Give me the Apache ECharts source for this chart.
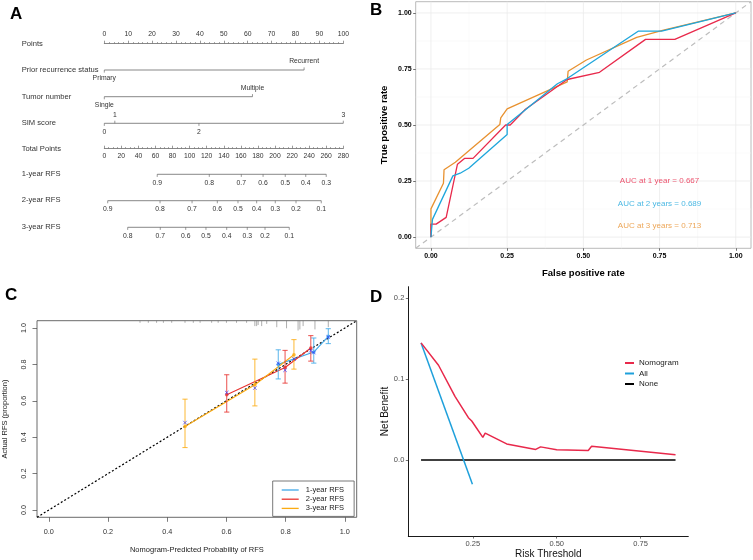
<!DOCTYPE html>
<html>
<head>
<meta charset="utf-8">
<script src="https://cdn.jsdelivr.net/npm/echarts@6/dist/echarts.min.js"></script>
<style>
html, body { margin: 0; padding: 0; background: #fff; }
#chart { width: 753px; height: 560px; }
</style>
</head>
<body>
<div id="chart"></div>
<script>
var FONT = 'Liberation Sans, Arial, sans-serif';

// ---------- A: nomogram ----------
var priorLevels = ['Primary', 'Recurrent'];
var priorPoints = [0, 83.6];
var tumorLevels = ['Single', 'Multiple'];
var tumorPoints = [0, 62];
var simLevels = ['0', '1', '2', '3'];
var simPoints = [0, 4.4, 39.6, 100];
var rfs1Labels = ['0.9', '0.8', '0.7', '0.6', '0.5', '0.4', '0.3'];
var rfs1Total = [62, 123, 160.5, 186, 212, 236, 260];
var rfs2Labels = ['0.9', '0.8', '0.7', '0.6', '0.5', '0.4', '0.3', '0.2', '0.1'];
var rfs2Total = [4, 65.3, 102.8, 132.4, 156.6, 178.5, 200.3, 224.6, 254.2];
var rfs3Labels = ['0.8', '0.7', '0.6', '0.5', '0.4', '0.3', '0.2', '0.1'];
var rfs3Total = [27.4, 65.6, 95.4, 119.1, 143.4, 167.5, 188.3, 216.7];

// ---------- B: time-dependent ROC ----------
var fpr1 = [0, 0, 0.017, 0.05, 0.087, 0.11, 0.138, 0.245, 0.26, 0.31, 0.447, 0.553, 0.704, 0.80, 1.0];
var tpr1 = [0, 0.058, 0.058, 0.088, 0.325, 0.351, 0.351, 0.50, 0.50, 0.57, 0.703, 0.735, 0.882, 0.882, 1.0];
var fpr2 = [0, 0.005, 0.072, 0.096, 0.124, 0.25, 0.25, 0.305, 0.415, 0.446, 0.681, 0.757, 1.0];
var tpr2 = [0, 0.079, 0.273, 0.285, 0.307, 0.458, 0.502, 0.562, 0.684, 0.706, 0.919, 0.919, 1.0];
var fpr3 = [0, 0, 0.041, 0.043, 0.08, 0.226, 0.229, 0.25, 0.447, 0.45, 0.51, 0.675, 0.763, 1.0];
var tpr3 = [0, 0.126, 0.24, 0.30, 0.334, 0.502, 0.532, 0.572, 0.692, 0.74, 0.79, 0.891, 0.923, 1.0];
var aucLabels = ['AUC at 1 year = 0.667', 'AUC at 2 years = 0.689', 'AUC at 3 years = 0.713'];
var rocTicks = [0, 0.25, 0.5, 0.75, 1];
var rocMinor = [0.125, 0.375, 0.625, 0.875];

// ---------- C: calibration ----------
var cal1Pred = [0.775, 0.895, 0.944];
var cal1Obs = [0.80, 0.868, 0.954];
var cal1Lo = [0.72, 0.807, 0.914];
var cal1Hi = [0.88, 0.945, 0.996];
var cal1Bc = [0.806, 0.865, 0.95];
var cal2Pred = [0.601, 0.798, 0.885];
var cal2Obs = [0.633, 0.783, 0.89];
var cal2Lo = [0.538, 0.697, 0.818];
var cal2Hi = [0.743, 0.877, 0.958];
var cal2Bc = [0.645, 0.768, 0.875];
var cal3Pred = [0.46, 0.696, 0.828];
var cal3Obs = [0.459, 0.688, 0.853];
var cal3Lo = [0.343, 0.572, 0.774];
var cal3Hi = [0.609, 0.829, 0.936];
var cal3Bc = [0.48, 0.67, 0.83];
var rugX = [0.308, 0.336, 0.364, 0.387, 0.415, 0.46, 0.488, 0.511, 0.55, 0.572, 0.60, 0.634, 0.668,
            0.696, 0.702, 0.707, 0.719, 0.736, 0.77, 0.803, 0.842, 0.848, 0.859, 0.899, 0.944];
var rugN = [1, 1, 1, 1, 1, 1, 1, 1, 1, 1, 1, 1, 1, 4, 4, 3, 4, 2, 5, 6, 8, 7, 4, 7, 5];
var calTicks = [0, 0.2, 0.4, 0.6, 0.8, 1.0];

// ---------- D: decision curve ----------
var dcaThr = [0.096, 0.148, 0.197, 0.237, 0.247, 0.28, 0.287, 0.351, 0.4375, 0.452, 0.50, 0.594, 0.604, 0.854];
var dcaNom = [0.1446, 0.117, 0.0786, 0.0522, 0.0482, 0.028, 0.0332, 0.0198, 0.013, 0.0162, 0.0126, 0.0117, 0.017, 0.0065];
var allThr = [0.096, 0.249];
var allNB = [0.1446, -0.030];
var noneThr = [0.096, 0.854];
var noneNB = [0, 0];
var dcaXTicks = [0.25, 0.5, 0.75];
var dcaYTicks = [0, 0.1, 0.2];

function zip(a, b) {
    return a.map(function (v, i) { return [v, b[i]]; });
}

var myChart = echarts.init(document.getElementById('chart'));

// nomogram rows share left/width, one thin grid per row
var NL = 104.3, NW = 239;
var grids = [
    {left: NL, width: NW, top: 43.3, height: 1},     // 0 Points
    {left: NL, width: NW, top: 69, height: 2},       // 1 Prior recurrence
    {left: NL, width: NW, top: 95.7, height: 2},     // 2 Tumor number
    {left: NL, width: NW, top: 122.3, height: 2},    // 3 SIM score
    {left: NL, width: NW, top: 148.3, height: 1},    // 4 Total points
    {left: NL, width: NW, top: 173.3, height: 2},    // 5 1-year
    {left: NL, width: NW, top: 199.7, height: 2},    // 6 2-year
    {left: NL, width: NW, top: 226.3, height: 2},    // 7 3-year
    {left: 415.7, top: 1.7, width: 335.3, height: 246.6, show: true, borderColor: '#a8a8a8', borderWidth: 0.8},
    {left: 36.7, top: 320.7, width: 320, height: 196.6, show: true, borderColor: '#444', borderWidth: 0.8},
    {left: 408.3, top: 286.7, width: 280, height: 250.6}
];

var nomoLine = {color: '#555', width: 0.7};
function hiddenX(g, max) {
    return {type: 'value', gridIndex: g, min: 0, max: max, show: false};
}
var xAxes = [
    {type: 'value', gridIndex: 0, min: 0, max: 100, interval: 10, position: 'top',
        axisLine: {onZero: false, lineStyle: nomoLine},
        axisTick: {length: 2.6, lineStyle: {color: '#555', width: 0.6}},
        minorTick: {show: true, splitNumber: 5, length: 1.3, lineStyle: {color: '#555', width: 0.5}},
        axisLabel: {fontSize: 6.8, color: '#333', margin: 5.5},
        splitLine: {show: false}, minorSplitLine: {show: false}},
    hiddenX(1, 100), hiddenX(2, 100), hiddenX(3, 100),
    {type: 'value', gridIndex: 4, min: 0, max: 280, interval: 20, position: 'top',
        axisLine: {onZero: false, lineStyle: nomoLine},
        axisTick: {length: 2.6, lineStyle: {color: '#555', width: 0.6}},
        minorTick: {show: true, splitNumber: 4, length: 1.3, lineStyle: {color: '#555', width: 0.5}},
        axisLabel: {show: false},
        splitLine: {show: false}, minorSplitLine: {show: false}},
    hiddenX(5, 280), hiddenX(6, 280), hiddenX(7, 280),
    // B
    {type: 'value', gridIndex: 8, min: -0.05, max: 1.05,
        name: 'False positive rate', nameLocation: 'middle', nameGap: 20,
        nameTextStyle: {fontWeight: 'bold', fontSize: 9.5, color: '#000'},
        axisLine: {show: false, onZero: false},
        axisTick: {customValues: rocTicks, length: 2.5, lineStyle: {color: '#333', width: 0.7}},
        axisLabel: {customValues: rocTicks, formatter: function (v) { return v.toFixed(2); },
            fontWeight: 'bold', fontSize: 7, color: '#000', margin: 4},
        splitLine: {show: false}},
    // C
    {type: 'value', gridIndex: 9, min: -0.04, max: 1.04,
        name: 'Nomogram-Predicted Probability of RFS', nameLocation: 'middle', nameGap: 29,
        nameTextStyle: {fontSize: 7.5, color: '#222'},
        axisLine: {show: false, onZero: false},
        axisTick: {customValues: calTicks, length: 4.5, lineStyle: {color: '#444', width: 0.7}},
        axisLabel: {customValues: calTicks, formatter: function (v) { return v.toFixed(1); },
            fontSize: 7.3, color: '#333', margin: 11},
        splitLine: {show: false}},
    // D
    {type: 'value', gridIndex: 10, min: 0.058, max: 0.892,
        name: 'Risk Threshold', nameLocation: 'middle', nameGap: 12.5,
        nameTextStyle: {fontSize: 10, color: '#111'},
        axisLine: {onZero: false, lineStyle: {color: '#000', width: 0.9}},
        axisTick: {customValues: dcaXTicks, length: 2.5, lineStyle: {color: '#333', width: 0.7}},
        axisLabel: {customValues: dcaXTicks, formatter: function (v) { return v.toFixed(2); },
            fontSize: 7.5, color: '#4d4d4d', margin: 4},
        splitLine: {show: false}},
    // total points labels under the line
    {type: 'value', gridIndex: 4, min: 0, max: 280, interval: 20, position: 'bottom',
        axisLine: {show: false, onZero: false}, axisTick: {show: false},
        axisLabel: {fontSize: 6.8, color: '#333', margin: 3.3},
        splitLine: {show: false}}
];

var yAxes = [];
for (var g = 0; g < 8; g++) {
    yAxes.push({type: 'value', gridIndex: g, min: -1, max: 1, show: false});
}
yAxes.push({type: 'value', gridIndex: 8, min: -0.05, max: 1.05,
    name: 'True positive rate', nameLocation: 'middle', nameGap: 26,
    nameTextStyle: {fontWeight: 'bold', fontSize: 9.5, color: '#000'},
    axisLine: {show: false, onZero: false},
    axisTick: {customValues: rocTicks, length: 2.5, lineStyle: {color: '#333', width: 0.7}},
    axisLabel: {customValues: rocTicks, formatter: function (v) { return v.toFixed(2); },
        fontWeight: 'bold', fontSize: 7, color: '#000', margin: 4},
    splitLine: {show: false}});
yAxes.push({type: 'value', gridIndex: 9, min: -0.04, max: 1.04,
    name: 'Actual RFS (proportion)', nameLocation: 'middle', nameGap: 28,
    nameTextStyle: {fontSize: 7.5, color: '#222'},
    axisLine: {show: false, onZero: false},
    axisTick: {customValues: calTicks, length: 4.5, lineStyle: {color: '#444', width: 0.7}},
    axisLabel: {customValues: calTicks, formatter: function (v) { return v.toFixed(1); },
        rotate: 90, fontSize: 7.3, color: '#333', margin: 10},
    splitLine: {show: false}});
yAxes.push({type: 'value', gridIndex: 10, min: -0.094, max: 0.214,
    name: 'Net Benefit', nameLocation: 'middle', nameGap: 18,
    nameTextStyle: {fontSize: 10, color: '#111'},
    axisLine: {show: true, onZero: false, lineStyle: {color: '#000', width: 0.9}},
    axisTick: {show: true, customValues: dcaYTicks, length: 2.5, lineStyle: {color: '#333', width: 0.7}},
    axisLabel: {customValues: dcaYTicks, formatter: function (v) { return v.toFixed(1); },
        fontSize: 7.5, color: '#4d4d4d', margin: 4},
    splitLine: {show: false}});

var series = [];

// a nomogram variable axis: base line plus ticks with labels (side 1 = below, -1 = above)
function nomoRow(idx, pts, labels, sides) {
    series.push({type: 'line', xAxisIndex: idx, yAxisIndex: idx, silent: true,
        data: [[pts[0], 0], [pts[pts.length - 1], 0]], symbol: 'none',
        lineStyle: nomoLine});
    series.push({type: 'custom', xAxisIndex: idx, yAxisIndex: idx, silent: true, clip: false,
        data: pts.map(function (p) { return [p, 0]; }),
        renderItem: function (params, api) {
            var c = api.coord([api.value(0), 0]);
            var s = sides(params.dataIndex);
            return {type: 'group', children: [
                {type: 'line', shape: {x1: c[0], y1: c[1], x2: c[0], y2: c[1] + s * 2.6},
                    style: {stroke: '#555', lineWidth: 0.6}},
                {type: 'text', style: {text: labels[params.dataIndex], x: c[0], y: c[1] + s * 8.4,
                    align: 'center', verticalAlign: 'middle', fontSize: 6.8, fill: '#333', fontFamily: FONT}}
            ]};
        }});
}
function alternate(i) { return i % 2 === 0 ? 1 : -1; }
function below() { return 1; }
nomoRow(1, priorPoints, priorLevels, alternate);
nomoRow(2, tumorPoints, tumorLevels, alternate);
nomoRow(3, simPoints, simLevels, alternate);
nomoRow(5, rfs1Total, rfs1Labels, below);
nomoRow(6, rfs2Total, rfs2Labels, below);
nomoRow(7, rfs3Total, rfs3Labels, below);

// ROC grid lines
function gridLines(idx, vals, vertical, color, w) {
    return {type: 'custom', xAxisIndex: idx, yAxisIndex: idx, silent: true, clip: false, z: 0,
        data: vals.map(function (v) { return vertical ? [v, 0.5] : [0.5, v]; }),
        renderItem: function (params, api) {
            var cs = params.coordSys;
            var c = api.coord([api.value(0), api.value(1)]);
            var shape = vertical
                ? {x1: c[0], y1: cs.y, x2: c[0], y2: cs.y + cs.height}
                : {x1: cs.x, y1: c[1], x2: cs.x + cs.width, y2: c[1]};
            return {type: 'line', shape: shape, style: {stroke: color, lineWidth: w}};
        }};
}
series.push(gridLines(8, rocMinor, true, '#f4f4f4', 0.5));
series.push(gridLines(8, rocMinor, false, '#f4f4f4', 0.5));
series.push(gridLines(8, rocTicks, true, '#ebebeb', 0.8));
series.push(gridLines(8, rocTicks, false, '#ebebeb', 0.8));

series.push({type: 'line', xAxisIndex: 8, yAxisIndex: 8, silent: true, symbol: 'none',
    data: [[-0.05, -0.05], [1.05, 1.05]],
    lineStyle: {color: '#bdbdbd', width: 1.2, type: [5, 4]}});

var rocColors = ['#e8294b', '#1ea6dc', '#e8912f'];
[[fpr1, tpr1], [fpr2, tpr2], [fpr3, tpr3]].forEach(function (d, i) {
    series.push({type: 'line', xAxisIndex: 8, yAxisIndex: 8, silent: true, symbol: 'none',
        data: zip(d[0], d[1]), z: 3 + (i === 2 ? 0 : 1),
        lineStyle: {color: rocColors[i], width: 1.3}});
});
series.push({type: 'scatter', xAxisIndex: 8, yAxisIndex: 8, silent: true,
    symbolSize: 0.1, itemStyle: {color: 'transparent'},
    data: aucLabels.map(function (t, i) {
        return {value: [0.75, [0.25, 0.15, 0.05][i]], name: t,
            label: {show: true, position: 'inside', formatter: t, color: rocColors[i],
                fontSize: 8, fontFamily: FONT}};
    })});

// calibration
series.push({type: 'line', xAxisIndex: 9, yAxisIndex: 9, silent: true, symbol: 'none',
    data: [[-0.04, -0.04], [1.04, 1.04]],
    lineStyle: {color: '#000', width: 1.2, type: [2, 2]}});
series.push({type: 'custom', xAxisIndex: 9, yAxisIndex: 9, silent: true, clip: false,
    data: rugX.map(function (x, i) { return [x, rugN[i]]; }),
    renderItem: function (params, api) {
        var top = params.coordSys.y;
        var x = api.coord([api.value(0), 0])[0];
        return {type: 'line', shape: {x1: x, y1: top, x2: x, y2: top + 1 + api.value(1) * 1.1},
            style: {stroke: '#777', lineWidth: 0.6}};
    }});

var calColors = ['#3ea8e8', '#e8332f', '#fbab12'];
var calNames = ['1-year RFS', '2-year RFS', '3-year RFS'];
var calSets = [
    [cal1Pred, cal1Obs, cal1Lo, cal1Hi, cal1Bc],
    [cal2Pred, cal2Obs, cal2Lo, cal2Hi, cal2Bc],
    [cal3Pred, cal3Obs, cal3Lo, cal3Hi, cal3Bc]
];
calSets.forEach(function (d, i) {
    var col = calColors[i];
    series.push({type: 'line', name: calNames[i], xAxisIndex: 9, yAxisIndex: 9, silent: true,
        symbol: 'none', color: col, data: zip(d[0], d[1]), z: 3,
        lineStyle: {color: col, width: 1.1}});
    series.push({type: 'custom', xAxisIndex: 9, yAxisIndex: 9, silent: true, z: 4,
        data: d[0].map(function (p, k) { return [p, d[2][k], d[3][k]]; }),
        renderItem: function (params, api) {
            var a = api.coord([api.value(0), api.value(1)]);
            var b = api.coord([api.value(0), api.value(2)]);
            var st = {stroke: col, lineWidth: 1, opacity: 0.85};
            return {type: 'group', children: [
                {type: 'line', shape: {x1: a[0], y1: a[1], x2: b[0], y2: b[1]}, style: st},
                {type: 'line', shape: {x1: a[0] - 2.6, y1: a[1], x2: a[0] + 2.6, y2: a[1]}, style: st},
                {type: 'line', shape: {x1: b[0] - 2.6, y1: b[1], x2: b[0] + 2.6, y2: b[1]}, style: st}
            ]};
        }});
    series.push({type: 'scatter', xAxisIndex: 9, yAxisIndex: 9, silent: true, z: 5,
        symbol: 'circle', symbolSize: 3.6, itemStyle: {color: col},
        data: zip(d[0], d[1])});
    series.push({type: 'scatter', xAxisIndex: 9, yAxisIndex: 9, silent: true, z: 6,
        symbol: 'path://M0,0L10,10M10,0L0,10', symbolSize: 3.6,
        itemStyle: {color: 'transparent', borderColor: '#2b2bff', borderWidth: 0.8},
        data: zip(d[0], d[4])});
});

// decision curve
series.push({type: 'line', name: 'None', xAxisIndex: 10, yAxisIndex: 10, silent: true, symbol: 'none',
    color: '#000', data: zip(noneThr, noneNB), lineStyle: {color: '#000', width: 1.5}});
series.push({type: 'line', name: 'All', xAxisIndex: 10, yAxisIndex: 10, silent: true, symbol: 'none',
    color: '#1ea0db', data: zip(allThr, allNB), lineStyle: {color: '#1ea0db', width: 1.5}});
series.push({type: 'line', name: 'Nomogram', xAxisIndex: 10, yAxisIndex: 10, silent: true, symbol: 'none',
    color: '#e8294b', data: zip(dcaThr, dcaNom), lineStyle: {color: '#e8294b', width: 1.5}});

function txt(t, x, y, size, weight, color) {
    return {type: 'text', left: x, top: y, silent: true,
        style: {text: t, fontSize: size, fontWeight: weight || 'normal', fill: color || '#222', fontFamily: FONT}};
}
var rowLabels = ['Points', 'Prior recurrence status', 'Tumor number', 'SIM score',
    'Total Points', '1-year RFS', '2-year RFS', '3-year RFS'];
var rowLabelTop = [40, 66, 92.5, 119, 144.5, 169.5, 196, 222.5];
var graphics = [
    txt('A', 10, 6, 17, 'bold', '#000'),
    txt('B', 370, 2, 17, 'bold', '#000'),
    txt('C', 5, 287, 17, 'bold', '#000'),
    txt('D', 370, 289, 17, 'bold', '#000')
];
rowLabels.forEach(function (t, i) { graphics.push(txt(t, 21.7, rowLabelTop[i], 7.6, 'normal', '#333')); });

var option = {
    animation: false,
    backgroundColor: '#fff',
    textStyle: {fontFamily: FONT},
    grid: grids,
    xAxis: xAxes,
    yAxis: yAxes,
    legend: [
        {data: calNames, orient: 'vertical', left: 272.7, top: 481, icon: 'rect',
            itemWidth: 17, itemHeight: 1.3, itemGap: 1.2, padding: [5, 10, 4, 9],
            borderColor: '#555', borderWidth: 0.8, selectedMode: false,
            formatter: function (n) { return ' ' + n; },
            textStyle: {fontSize: 7.5, color: '#222'}},
        {data: ['Nomogram', 'All', 'None'], orient: 'vertical', left: 625, top: 359, icon: 'rect',
            itemWidth: 9, itemHeight: 2, itemGap: 2.5, padding: 0, selectedMode: false,
            textStyle: {fontSize: 8, color: '#222'}}
    ],
    graphic: graphics,
    series: series
};
myChart.setOption(option);
</script>
</body>
</html>
